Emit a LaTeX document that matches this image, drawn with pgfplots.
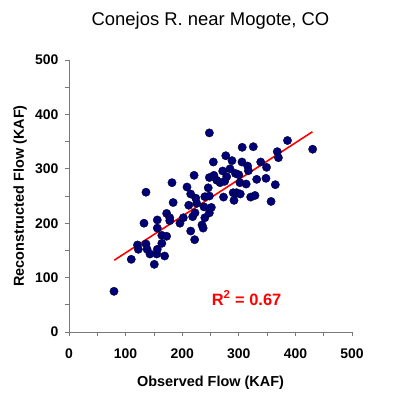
\documentclass[border=0pt]{standalone}
\usepackage{pgfplots}
\pgfplotsset{compat=1.18}
\usepackage{fontspec}
\setmainfont{Liberation Sans}
\definecolor{dotblue}{RGB}{0,0,120}
\definecolor{axgray}{RGB}{120,120,120}
\begin{document}
\begin{tikzpicture}
\path[use as bounding box] (-69bp,-71bp) rectangle (328bp,332bp);
\begin{axis}[
  at={(0,0)}, anchor=south west,
  scale only axis, width=283bp, height=272bp,
  xmin=0, xmax=500, ymin=0, ymax=500,
  xtick={0,100,...,500}, ytick={0,100,...,500},
  minor xtick={50,150,...,450}, minor ytick={50,150,...,450},
  axis x line*=bottom, axis y line*=left,
  axis line style={axgray, line width=0.8pt},
  every tick/.style={axgray, line width=0.8pt},
  tick align=outside,
  major tick length=4bp, minor tick length=4bp,
  tick label style={font=\fontsize{14}{16}\selectfont\bfseries},
  /pgf/number format/assume math mode=true,
  xticklabel style={yshift=-9bp},
  yticklabel style={xshift=-3bp},
  xlabel={Observed Flow (KAF)},
  ylabel={Reconstructed Flow (KAF)},
  label style={font=\fontsize{14.5}{16}\selectfont\bfseries},
  xlabel style={at={(axis description cs:0.5,-0.1875)}, anchor=center},
  ylabel style={at={(axis description cs:-0.173,0.5)}, anchor=center, rotate=0},
  title={Conejos R. near Mogote, CO},
  title style={at={(axis description cs:0.5,1.121)}, anchor=center, font=\fontsize{18.5}{20}\selectfont},
  clip=false,
]
\addplot[only marks, mark=*, mark size=4.2bp, mark options={fill=dotblue, draw=black!80!dotblue, line width=0.3pt}] coordinates {
(79.5,74.8) (110,133.6) (150.7,124.4) (121,160) (122.5,152) (136,161.8)
(138,152) (143,143.4) (155,143.4) (156,152) (169,139.7) (164,163)
(164,177.7) (172.5,176) (156,191) (156,206) (132.5,200) (136,257)
(172.5,218) (178,210) (178,204.6) (184,238) (182,274.5) (196,200)
(202,210) (215,185.6) (222,169.7) (208.5,266.5) (211.5,233) (215,253.7)
(221,288) (224,246) (225.6,236.5) (218.5,212) (222.6,219) (235,196.7)
(237,191) (240,210) (238.5,230) (240,248.7) (246,265) (248,250)
(248,219) (251.5,229) (248,284) (256,288) (255,312.5) (248,366)
(261,279) (267,274.5) (273,248) (275,277) (278.6,285.5) (271.5,296)
(277,324) (284.5,300) (288,315) (294,291.5) (300,289) (302,274.5)
(290,256) (296,256) (302.6,253.7) (291.5,242) (306,339.5) (305.6,312.5)
(315.7,305) (316.9,296.5) (313,272) (325.6,340.6) (331.6,280.6) (321,248)
(328.6,251) (338.7,312.5) (348,282.5) (349,302.7) (357,240) (364.5,270.8)
(368,331.5) (370,320.4) (386,352) (430.5,336)
};
\addplot[red, line width=1.6pt] coordinates {(80,132) (430,368)};
\node[anchor=west, text=red, font=\fontsize{16.5}{18}\selectfont\bfseries, inner sep=0pt] at (axis cs:252,62.5) {R\textsuperscript{2} = 0.67};
\end{axis}
\end{tikzpicture}
\end{document}
